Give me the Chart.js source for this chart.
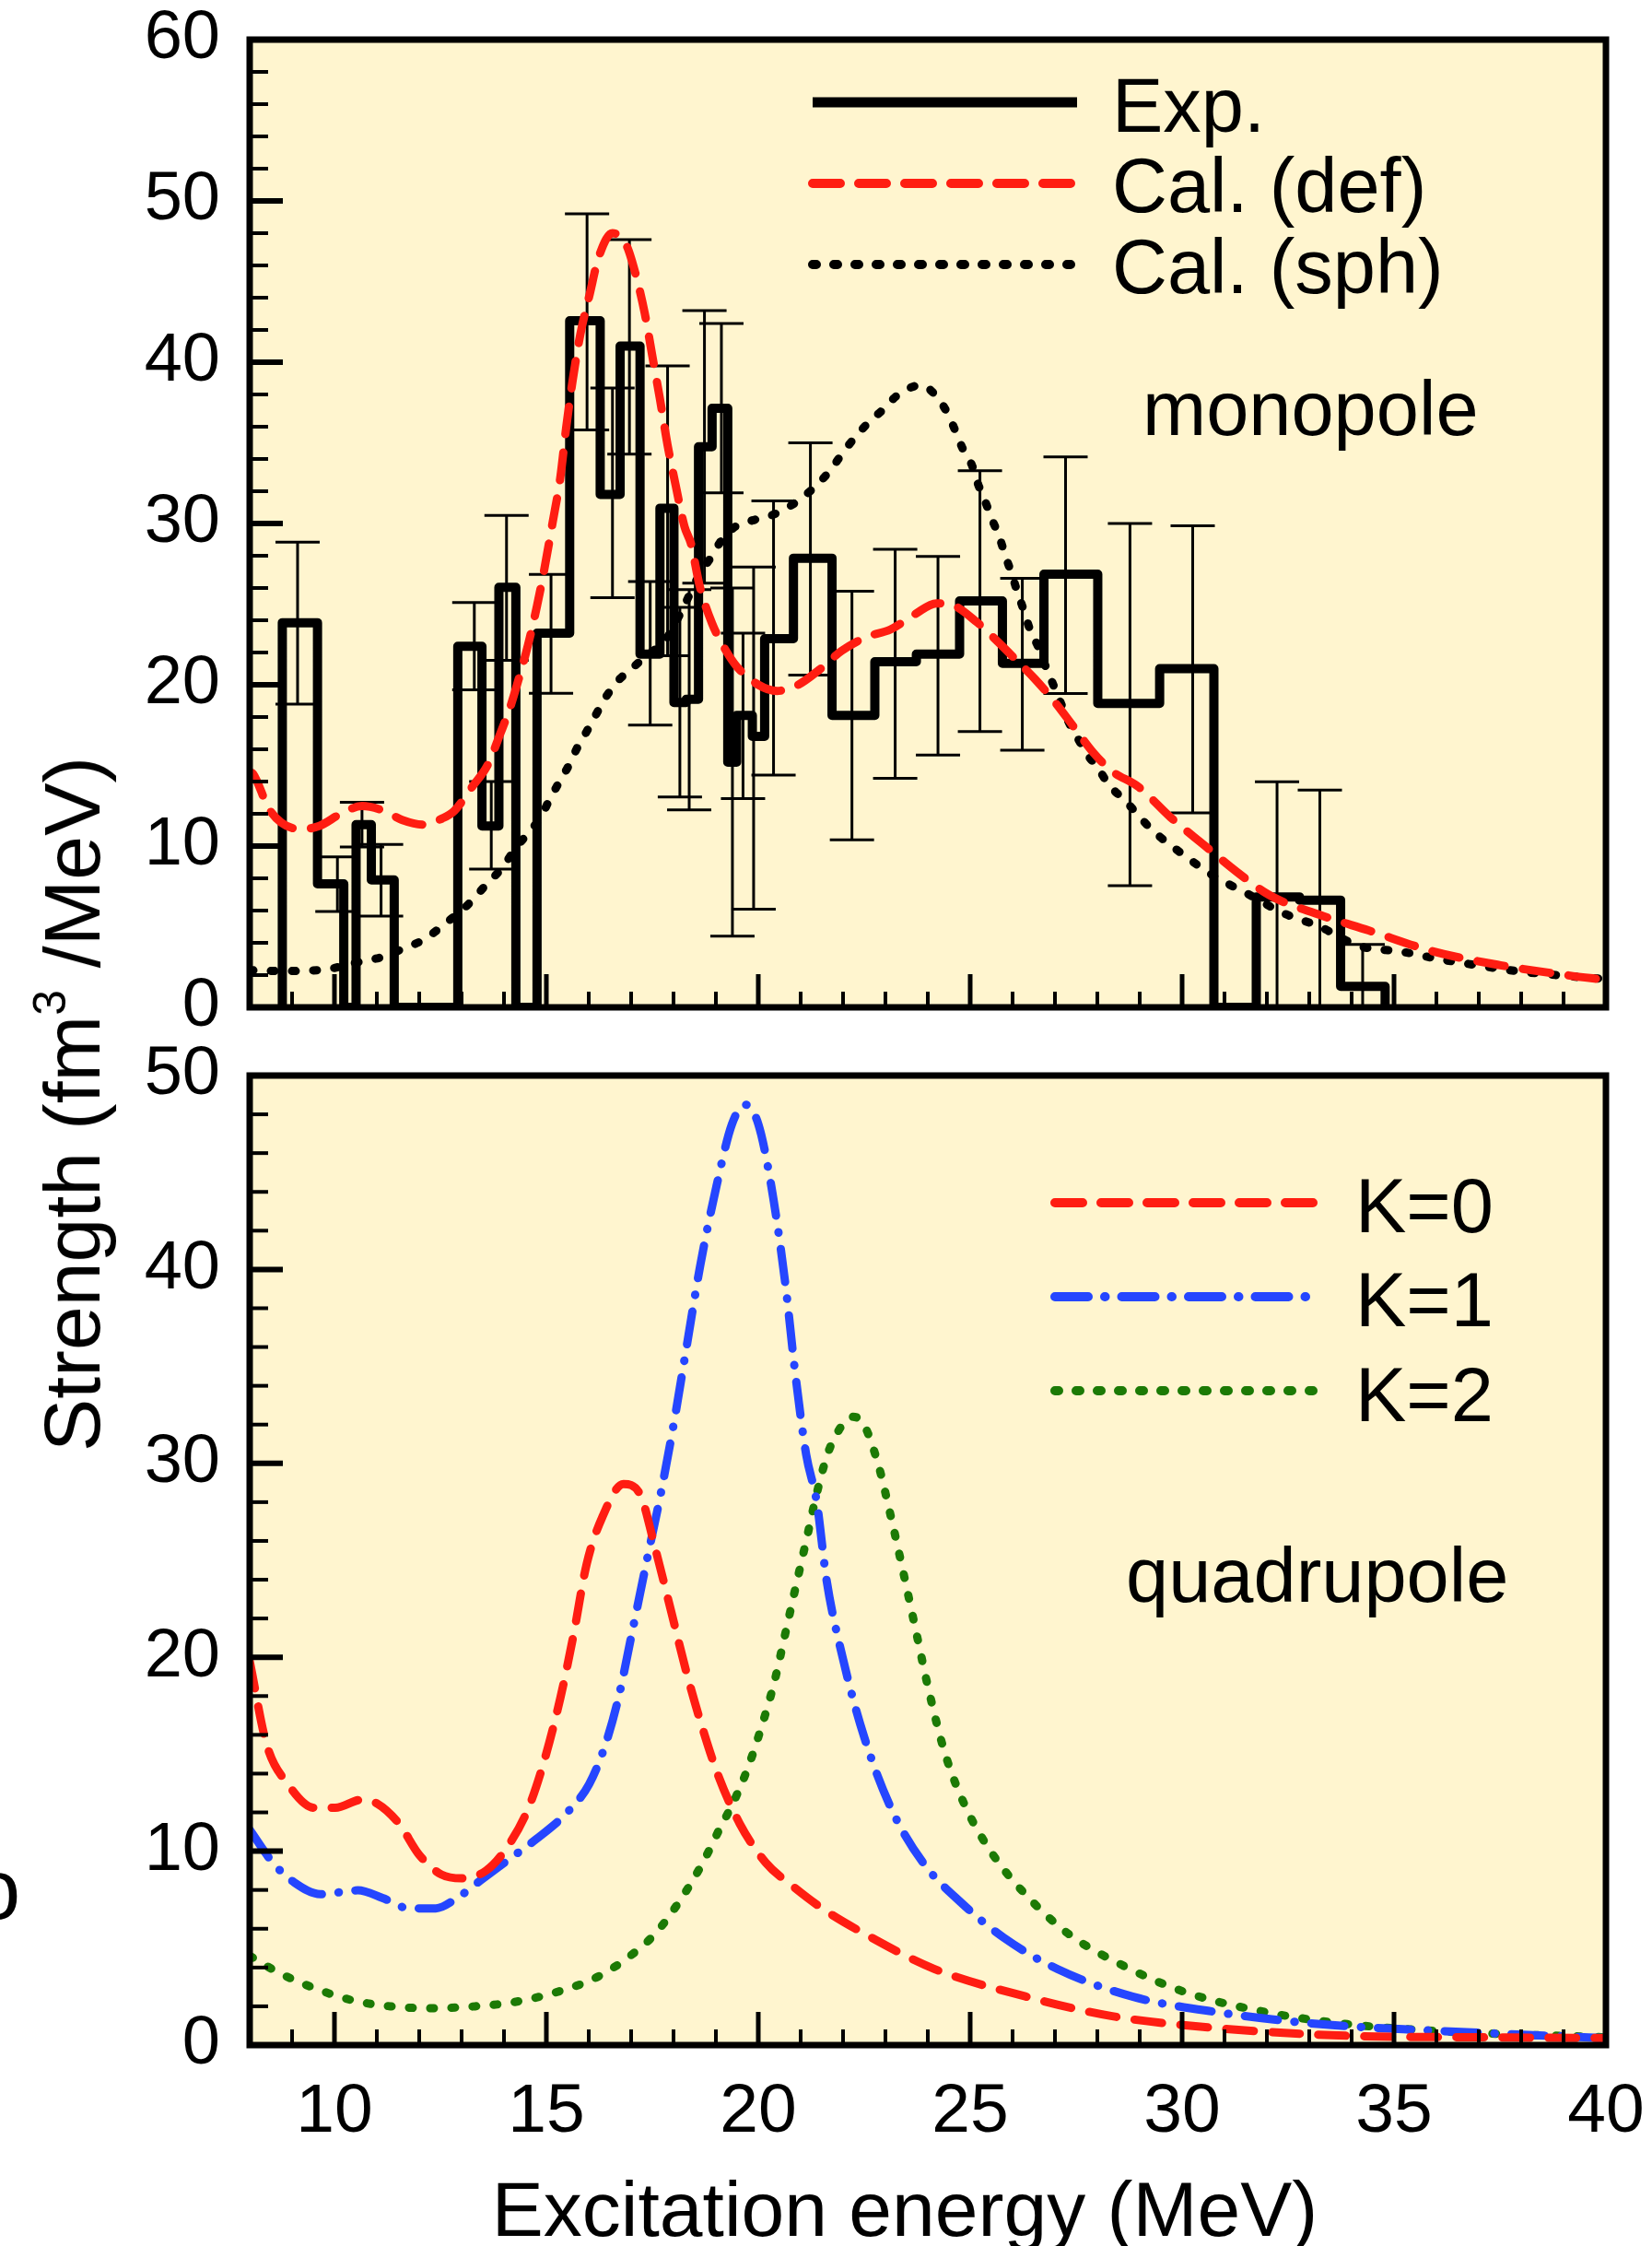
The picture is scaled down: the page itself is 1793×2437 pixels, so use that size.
<!DOCTYPE html>
<html>
<head>
<meta charset="utf-8">
<script src="https://cdn.jsdelivr.net/npm/chart.js@4/dist/chart.umd.min.js"></script>
<style>
  body { margin: 0; background: #fff; width: 1793px; height: 2437px; position: relative; overflow: hidden;
    font-family: 'Liberation Sans', Arial, sans-serif; color: #000; }
  canvas { position: absolute; left: 0; }
  #topChart { top: 0; }
  #bottomChart { top: 1100px; }
  #ytitle {
    position: absolute; left: 78px; top: 1198px;
    transform: translate(-50%, -50%) rotate(-90deg);
    font-size: 86px; line-height: 1; white-space: nowrap;
  }
  #ytitle sup { font-size: 58%; vertical-align: 0.75em; line-height: 0; }
  #xtitle {
    position: absolute; left: 982px; top: 2397px;
    transform: translate(-50%, -50%);
    font-size: 84px; line-height: 1; white-space: nowrap;
  }
  #edgeMark { position: absolute; left: -29px; top: 2004px; font-size: 92px; line-height: 1; }
</style>
</head>
<body>
<canvas id="topChart" width="1793" height="1150" style="width:1793px;height:1150px"></canvas>
<canvas id="bottomChart" width="1793" height="1337" style="width:1793px;height:1337px"></canvas>
<div id="ytitle">Strength (fm<sup>3</sup> /MeV)</div>
<div id="xtitle">Excitation energy (MeV)</div>
<div id="edgeMark">o</div>
<script>
// ---------- data ----------
// x tick labels (bottom panel only)
let xTickValues = [10, 15, 20, 25, 30, 35, 40]

// experimental histogram: bin edges and bin heights
let expEdges = [8.77, 9.60, 10.22, 10.51, 10.87, 11.41, 12.91, 13.48, 13.88, 14.28, 14.78, 15.55, 16.27, 16.74,
  17.21, 17.68, 18.01, 18.30, 18.59, 18.91, 19.28, 19.49, 19.86, 20.15, 20.83, 21.74, 22.75, 23.73, 24.75,
  25.76, 26.74, 28.01, 29.47, 30.75, 31.75, 32.77, 33.74, 34.79]
let expValues = [23.85, 7.66, 0, 11.33, 7.9, 0, 22.38, 11.24, 26.04, 0, 23.2, 42.57, 31.8, 41.0,
  21.9, 30.95, 18.9, 19.1, 34.76, 37.14, 15.2, 18.1, 16.8, 22.86, 27.85, 18.1, 21.43, 21.9,
  25.2, 21.33, 26.86, 18.84, 21.0, 0, 6.85, 6.65, 1.3]

// experimental error bars
let errE = [9.13, 10.07, 10.65, 11.1, 13.3, 13.7, 14.06, 15.11, 15.96, 16.56, 16.96, 17.45, 17.86, 18.15, 18.37,
  18.73, 19.13, 19.39, 19.64, 19.89, 20.36, 21.23, 22.21, 23.23, 24.24, 25.23, 26.23, 27.25, 28.77, 30.25,
  32.24, 33.25, 34.26]
let errLow = [18.8, 5.94, 9.94, 5.66, 19.68, 8.57, 21.52, 19.47, 35.8, 25.4, 34.3, 17.5, 21.8, 13.05, 12.25,
  26.3, 31.9, 4.42, 12.95, 6.09, 14.4, 20.6, 10.38, 14.2, 15.65, 17.1, 15.94, 19.46, 7.54, 12.06,
  0, 0, 0]
let errHigh = [28.85, 9.33, 12.72, 10.1, 25.1, 14.0, 30.5, 26.85, 49.2, 38.4, 47.6, 26.4, 39.77, 24.8, 25.9,
  43.2, 42.4, 26.0, 23.2, 27.3, 31.4, 35.0, 25.8, 28.4, 27.96, 33.27, 26.6, 34.13, 30.0, 29.86,
  13.99, 13.47, 3.9]

// monopole calculation, deformed
let defE = [8.0, 8.08, 8.48, 9.2, 9.64, 10.15, 10.65, 11.16, 11.6, 12.1, 12.54, 12.83, 13.26, 13.62, 13.91,
  14.13, 14.35, 14.57, 14.78, 14.93, 15.15, 15.33, 15.47, 15.62, 15.8, 16.02, 16.23, 16.56, 16.89, 17.1,
  17.32, 17.5, 17.68, 17.86, 18.05, 18.26, 18.41, 18.62, 18.91, 19.2, 19.49, 20.0, 20.44, 20.94, 21.45,
  21.96, 22.54, 23.12, 23.7, 24.2, 24.57, 25.15, 25.65, 26.09, 26.52, 26.96, 27.46, 27.9, 28.33, 28.97,
  29.74, 30.52, 31.3, 32.07, 33.24, 34.4, 35.95, 37.51, 39.06, 40.0]
let defV = [14.6, 14.48, 12.19, 11.05, 11.24, 12.0, 12.48, 12.19, 11.62, 11.33, 11.71, 12.19, 13.71, 15.05, 16.95,
  18.48, 20.38, 22.5, 24.9, 26.86, 30.1, 32.86, 36.0, 38.86, 41.71, 44.19, 46.47, 48.0, 47.24, 45.52,
  43.05, 40.38, 37.71, 34.86, 32.38, 29.8, 28.76, 26.1, 23.8, 22.28, 21.14, 20.0, 19.62, 20.0, 20.95,
  22.09, 22.95, 23.43, 24.38, 25.05, 24.95, 23.9, 22.67, 21.52, 20.38, 19.05, 17.33, 15.81, 14.67, 13.67,
  11.75, 10.06, 8.38, 6.94, 5.74, 4.77, 3.45, 2.61, 2.0, 1.7]

// monopole calculation, spherical
let sphE = [8.0, 8.84, 9.86, 10.65, 11.16, 11.6, 12.1, 12.68, 13.12, 13.55, 13.99, 14.28, 14.56, 14.89, 15.07,
  15.29, 15.54, 15.73, 15.94, 16.16, 16.38, 16.67, 16.99, 17.32, 17.83, 18.19, 18.62, 18.91, 19.13, 19.46,
  19.86, 20.29, 20.73, 21.09, 21.45, 21.74, 21.99, 22.28, 22.61, 22.94, 23.26, 23.84, 24.2, 24.46, 24.64,
  24.82, 25.04, 25.18, 25.36, 25.51, 25.69, 25.83, 25.98, 26.12, 26.27, 26.41, 26.6, 26.78, 26.96, 27.14,
  27.32, 27.54, 27.75, 28.01, 28.27, 28.65, 29.28, 29.97, 30.75, 31.53, 32.38, 33.24, 34.17, 35.18, 36.11,
  36.96, 37.89, 38.83, 40.0]
let sphV = [2.3, 2.25, 2.38, 2.86, 3.14, 3.62, 4.19, 5.33, 6.29, 7.52, 8.76, 9.9, 10.76, 11.9, 12.86,
  13.9, 15.05, 16.1, 17.05, 18.1, 19.14, 20.19, 20.95, 21.71, 22.86, 24.57, 26.86, 28.0, 28.95, 29.81,
  30.19, 30.48, 31.05, 31.71, 32.57, 33.43, 34.38, 35.33, 36.29, 37.05, 37.9, 38.57, 37.9, 36.86, 35.81,
  34.66, 33.62, 32.48, 31.33, 30.29, 29.14, 28.0, 26.86, 25.71, 24.57, 23.43, 22.38, 21.14, 20.0, 18.86,
  17.71, 16.67, 15.71, 14.86, 13.8, 12.83, 11.03, 9.58, 8.14, 7.06, 5.85, 5.01, 3.81, 3.45, 2.97,
  2.61, 2.25, 2.0, 1.75]

// quadrupole K=0
let k0E = [8.0, 8.4, 8.9, 9.52, 10.02, 10.64, 11.02, 11.52, 12.0, 12.52, 13.0, 13.58, 14.08, 14.58, 14.95,
  15.33, 15.64, 15.95, 16.32, 16.82, 17.2, 17.57, 17.94, 18.32, 18.69, 19.06, 19.56, 20.18, 20.81, 21.56,
  22.5, 24.15, 26.3, 28.32, 30.73, 33.9, 37.06, 40.0]
let k0V = [19.8, 15.5, 13.46, 12.24, 12.24, 12.65, 12.44, 11.43, 9.81, 8.8, 8.6, 9.0, 10.22, 12.24, 14.67,
  17.9, 21.15, 24.8, 27.23, 28.93, 28.45, 25.6, 22.4, 19.1, 16.3, 13.87, 11.43, 9.4, 8.2, 6.97,
  5.75, 3.93, 2.51, 1.5, 0.89, 0.48, 0.4, 0.36]

// quadrupole K=1
let k1E = [8.0, 8.55, 9.05, 9.67, 10.55, 11.14, 11.77, 12.39, 12.89, 13.51, 14.13, 14.76, 15.51, 16.01, 16.39,
  16.7, 17.01, 17.39, 17.7, 18.01, 18.32, 18.63, 19.01, 19.38, 19.69, 20.0, 20.31, 20.63, 20.88, 21.13,
  21.38, 21.61, 22.0, 22.5, 23.13, 23.89, 24.78, 25.79, 27.06, 28.83, 30.85, 33.26, 35.79, 40.0]
let k1V = [11.1, 9.4, 8.39, 7.78, 7.98, 7.58, 7.05, 7.05, 7.58, 8.6, 9.6, 10.62, 12.04, 13.46, 15.48,
  17.9, 21.15, 25.2, 28.45, 32.1, 36.16, 40.2, 44.26, 47.5, 48.5, 47.5, 44.26, 39.4, 34.5, 30.45,
  28.0, 24.0, 19.9, 15.88, 12.23, 9.4, 7.36, 5.54, 3.92, 2.5, 1.69, 1.08, 0.76, 0.36]

// quadrupole K=2
let k2E = [8.0, 8.69, 9.57, 10.44, 11.32, 12.32, 13.32, 14.19, 15.19, 16.19, 16.94, 17.57, 18.19, 18.69, 19.06,
  19.44, 19.75, 20.06, 20.38, 20.63, 20.88, 21.13, 21.38, 21.63, 21.87, 22.2, 22.43, 22.81, 23.13, 23.38,
  23.7, 24.02, 24.4, 24.9, 25.54, 26.3, 27.31, 28.58, 30.1, 32.0, 33.9, 36.43, 40.0]
let k2V = [4.6, 3.73, 2.9, 2.3, 2.0, 1.9, 2.0, 2.2, 2.7, 3.5, 4.54, 5.75, 7.58, 9.4, 11.03,
  12.65, 14.27, 16.3, 18.73, 21.15, 23.6, 26.0, 28.45, 30.45, 31.6, 32.4, 32.2, 30.1, 27.24, 24.8,
  21.56, 18.32, 15.08, 12.24, 9.81, 7.78, 5.75, 4.13, 2.71, 1.69, 1.08, 0.68, 0.4]

// ---------- helpers ----------
let fontFamily = "'Liberation Sans', Arial, Helvetica, sans-serif"
let panelColor = '#fff5cf'
let redColor = '#ff1d12'
let blueColor = '#2546ff'
let greenColor = '#1c7a05'

// turn two arrays into {x, y} points
function toPoints(xs, ys) {
  let points = []
  for (let i = 0; i < xs.length; i++) {
    points.push({x: xs[i], y: ys[i]})
  }
  return points
}

// build the step outline of the histogram from edges and heights
function stepPoints(edges, values) {
  let points = [{x: edges[0], y: 0}]
  for (let i = 0; i < values.length; i++) {
    points.push({x: edges[i], y: values[i]})
    points.push({x: edges[i + 1], y: values[i]})
  }
  points.push({x: edges[edges.length - 1], y: 0})
  return points
}

// smooth calculated curve dataset
function curve(label, xs, ys, color, dash, width, order) {
  return {
    label: label,
    data: toPoints(xs, ys),
    showLine: true,
    borderColor: color,
    borderWidth: width,
    borderDash: dash,
    borderCapStyle: 'round',
    pointRadius: 0,
    cubicInterpolationMode: 'monotone',
    order: order
  }
}

// yellow panel behind the plot
let panelPlugin = {
  id: 'panel',
  beforeDraw(chart) {
    let a = chart.chartArea
    let ctx = chart.ctx
    ctx.save()
    ctx.fillStyle = panelColor
    ctx.fillRect(a.left, a.top, a.right - a.left, a.bottom - a.top)
    ctx.restore()
  }
}

// inward tick marks and the black frame
let framePlugin = {
  id: 'frame',
  afterDraw(chart) {
    let a = chart.chartArea
    let ctx = chart.ctx
    let xs = chart.scales.x
    let ys = chart.scales.y
    ctx.save()
    ctx.strokeStyle = '#000'
    ctx.lineCap = 'butt'
    // x ticks every 1 MeV, long ones every 5
    for (let e = 9; e < 40; e++) {
      let len = (e % 5 === 0) ? 36 : 17
      ctx.lineWidth = (e % 5 === 0) ? 5 : 4
      let px = xs.getPixelForValue(e)
      ctx.beginPath()
      ctx.moveTo(px, a.bottom)
      ctx.lineTo(px, a.bottom - len)
      ctx.stroke()
    }
    // y ticks every 2, long ones every 10
    for (let v = 2; v < ys.max; v += 2) {
      let len = (v % 10 === 0) ? 36 : 20
      ctx.lineWidth = (v % 10 === 0) ? 6 : 4
      let py = ys.getPixelForValue(v)
      ctx.beginPath()
      ctx.moveTo(a.left, py)
      ctx.lineTo(a.left + len, py)
      ctx.stroke()
    }
    ctx.lineWidth = 7
    ctx.lineJoin = 'miter'
    ctx.strokeRect(a.left, a.top, a.right - a.left, a.bottom - a.top)
    ctx.restore()
  }
}

// error bars of the experiment, drawn under the lines
let errorBarPlugin = {
  id: 'errorBars',
  beforeDatasetsDraw(chart) {
    let ctx = chart.ctx
    let xs = chart.scales.x
    let ys = chart.scales.y
    let a = chart.chartArea
    ctx.save()
    ctx.beginPath()
    ctx.rect(a.left, a.top, a.right - a.left, a.bottom - a.top)
    ctx.clip()
    ctx.strokeStyle = '#000'
    ctx.lineWidth = 3
    for (let i = 0; i < errE.length; i++) {
      let px = xs.getPixelForValue(errE[i])
      let y1 = ys.getPixelForValue(errLow[i])
      let y2 = ys.getPixelForValue(errHigh[i])
      ctx.beginPath()
      ctx.moveTo(px, y1)
      ctx.lineTo(px, y2)
      ctx.moveTo(px - 24, y1)
      ctx.lineTo(px + 24, y1)
      ctx.moveTo(px - 24, y2)
      ctx.lineTo(px + 24, y2)
      ctx.stroke()
    }
    ctx.restore()
  }
}

// legend samples and panel names drawn from the dataset styles
function labelPlugin(entries, names) {
  return {
    id: 'labels',
    afterDraw(chart) {
      let ctx = chart.ctx
      ctx.save()
      ctx.font = '83px ' + fontFamily
      ctx.fillStyle = '#000'
      ctx.textBaseline = 'alphabetic'
      ctx.textAlign = 'left'
      entries.forEach(function(en) {
        let ds = chart.data.datasets[en.ds]
        ctx.strokeStyle = ds.borderColor
        ctx.lineWidth = ds.borderWidth + 1
        ctx.lineCap = ds.borderDash.length ? 'round' : 'butt'
        ctx.setLineDash(ds.borderDash)
        ctx.beginPath()
        ctx.moveTo(en.x1, en.y)
        ctx.lineTo(en.x2, en.y)
        ctx.stroke()
        ctx.setLineDash([])
        ctx.fillText(ds.label, en.tx, en.ty)
      })
      names.forEach(function(n) {
        ctx.fillText(n.text, n.x, n.y)
      })
      ctx.restore()
    }
  }
}

function baseOptions(yMax, padding, showX) {
  return {
    responsive: false,
    animation: false,
    devicePixelRatio: 1,
    layout: { padding: padding },
    plugins: { legend: { display: false }, tooltip: { enabled: false } },
    scales: {
      x: {
        type: 'linear', min: 8, max: 40,
        grid: { display: false, drawTicks: false },
        border: { display: false },
        afterBuildTicks: function(axis) { axis.ticks = xTickValues.map(v => ({value: v})) },
        ticks: { display: showX, color: '#000', font: { size: 75, family: fontFamily }, padding: 28, maxRotation: 0 },
        afterFit: function(axis) {
          if (showX) axis.height = 218
          axis.paddingLeft = 0
          axis.paddingRight = 0
        }
      },
      y: {
        min: 0, max: yMax,
        grid: { display: false, drawTicks: false },
        border: { display: false },
        ticks: { stepSize: 10, color: '#000', font: { size: 74, family: fontFamily }, padding: 32 },
        afterFit: function(axis) {
          axis.width = 271
          axis.paddingTop = 0
          axis.paddingBottom = 0
        }
      }
    }
  }
}

// ---------- top panel: monopole ----------
let topCtx = document.getElementById('topChart').getContext('2d')
new Chart(topCtx, {
  type: 'scatter',
  data: {
    datasets: [
      {
        label: 'Exp.',
        data: stepPoints(expEdges, expValues),
        showLine: true,
        borderColor: '#000',
        borderWidth: 10,
        borderDash: [],
        borderJoinStyle: 'round',
        pointRadius: 0,
        tension: 0,
        order: 3
      },
      curve('Cal. (def)', defE, defV, redColor, [30, 20], 9, 1),
      curve('Cal. (sph)', sphE, sphV, '#000', [4, 19], 9, 2)
    ]
  },
  options: baseOptions(60, { top: 43, right: 50, bottom: 57, left: 0 }, false),
  plugins: [panelPlugin, errorBarPlugin, framePlugin,
    labelPlugin([
      { ds: 0, x1: 882, x2: 1169, y: 111, tx: 1207, ty: 143 },
      { ds: 1, x1: 882, x2: 1169, y: 199, tx: 1207, ty: 230 },
      { ds: 2, x1: 882, x2: 1169, y: 287, tx: 1207, ty: 318 }
    ], [{ text: 'monopole', x: 1240, y: 472 }])]
})

// ---------- bottom panel: quadrupole ----------
let bottomCtx = document.getElementById('bottomChart').getContext('2d')
new Chart(bottomCtx, {
  type: 'scatter',
  data: {
    datasets: [
      curve('K=0', k0E, k0V, redColor, [30, 20], 9, 1),
      curve('K=1', k1E, k1V, blueColor, [36, 18, 0.5, 18], 9, 2),
      curve('K=2', k2E, k2V, greenColor, [4, 19], 9, 3)
    ]
  },
  options: baseOptions(50, { top: 67, right: 50, bottom: 0, left: 0 }, true),
  plugins: [panelPlugin, framePlugin,
    labelPlugin([
      { ds: 0, x1: 1145, x2: 1433, y: 205, tx: 1471, ty: 237 },
      { ds: 1, x1: 1145, x2: 1433, y: 307, tx: 1471, ty: 339 },
      { ds: 2, x1: 1145, x2: 1433, y: 409, tx: 1471, ty: 442 }
    ], [{ text: 'quadrupole', x: 1222, y: 638 }])]
})
</script>
</body>
</html>
